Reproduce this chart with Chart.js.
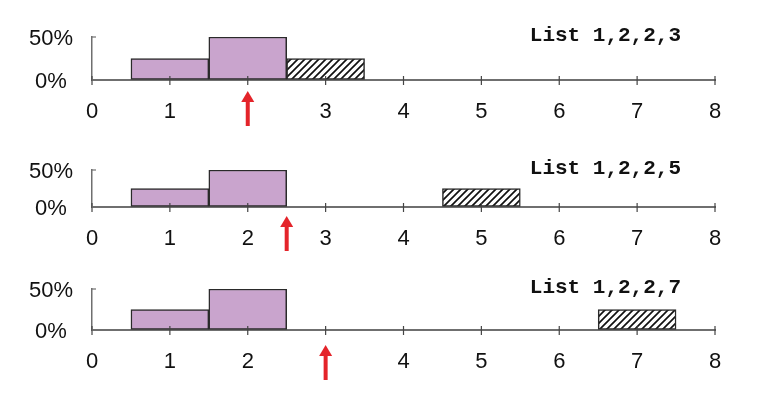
<!DOCTYPE html>
<html>
<head>
<meta charset="utf-8">
<script src="https://cdn.jsdelivr.net/npm/chart.js@4.4.1/dist/chart.umd.min.js"></script>
<style>
  html, body { margin: 0; padding: 0; background: #fff; }
  #wrap { position: relative; width: 780px; height: 396px; overflow: hidden; }
  canvas { position: absolute; left: 0; }
</style>
</head>
<body>
<div id="wrap">
  <canvas id="c0" width="780" height="132" style="top:0px"></canvas>
  <canvas id="c1" width="780" height="132" style="top:132px"></canvas>
  <canvas id="c2" width="780" height="132" style="top:264px"></canvas>
</div>
<script>
// three small histograms, one per list (share of values per bin)
const listNames = ["List 1,2,2,3", "List 1,2,2,5", "List 1,2,2,7"];
const binsA = [1, 2, 3];
const binsB = [1, 2, 5];
const binsC = [1, 2, 7];
const sharesA = [0.25, 0.5, 0.25];
const sharesB = [0.25, 0.5, 0.25];
const sharesC = [0.25, 0.5, 0.25];
const medians = [2, 2.5, 3];
const xTicks = [0, 1, 2, 3, 4, 5, 6, 7, 8];
const yTicks = [0, 0.5];
const yTickLabels = ["0%", "50%"];

const allBins = [binsA, binsB, binsC];
const allShares = [sharesA, sharesB, sharesC];
// vertical padding of each panel canvas
const padTop = [37, 38, 25];
const padBottom = [10, 15, 24];
// gap between axis and arrow tip, per panel
const arrowGap = [11, 9, 15];

const purple = "#c9a4cd";
const axisGrey = "#6f6f6f";

// hatch pattern for the outlier bar
const pc = document.createElement("canvas");
pc.width = 7;
pc.height = 7;
const g = pc.getContext("2d");
g.fillStyle = "#fff";
g.fillRect(0, 0, 7, 7);
g.strokeStyle = "#111";
g.lineWidth = 1.7;
g.beginPath();
g.moveTo(0, 7); g.lineTo(7, 0);
g.moveTo(-1, 1); g.lineTo(1, -1);
g.moveTo(6, 8); g.lineTo(8, 6);
g.stroke();
const hatch = g.createPattern(pc, "repeat");

function decor(idx) {
  return {
    id: "decor" + idx,
    afterDraw(chart) {
      const { ctx, chartArea } = chart;
      const x = chart.scales.x;
      const y = chart.scales.y;
      const base = y.getPixelForValue(0);
      ctx.save();
      // small ticks crossing the x axis
      ctx.strokeStyle = "#444";
      ctx.lineWidth = 1.2;
      xTicks.forEach((v) => {
        const px = x.getPixelForValue(v);
        ctx.beginPath();
        ctx.moveTo(px, base - 4);
        ctx.lineTo(px, base + 5);
        ctx.stroke();
      });
      // stubs pointing right on the y axis
      ctx.strokeStyle = axisGrey;
      yTicks.forEach((v) => {
        const py = y.getPixelForValue(v);
        ctx.beginPath();
        ctx.moveTo(chartArea.left, py);
        ctx.lineTo(chartArea.left + 4, py);
        ctx.stroke();
      });
      // red arrow at the median
      const mx = x.getPixelForValue(medians[idx]);
      const tip = base + arrowGap[idx];
      ctx.fillStyle = "#e4242a";
      ctx.fillRect(mx - 2, tip + 9, 4, 26);
      ctx.beginPath();
      ctx.moveTo(mx, tip);
      ctx.lineTo(mx + 6.5, tip + 11);
      ctx.lineTo(mx - 6.5, tip + 11);
      ctx.closePath();
      ctx.fill();
      // list label
      ctx.fillStyle = "#111";
      ctx.font = 'bold 21px "Liberation Mono", "Courier New", monospace';
      ctx.textAlign = "right";
      ctx.textBaseline = "middle";
      ctx.fillText(listNames[idx], x.getPixelForValue(8) - 34, chartArea.top - 1);
      ctx.restore();
    },
  };
}

allBins.forEach((bins, idx) => {
  const shares = allShares[idx];
  new Chart(document.getElementById("c" + idx), {
    type: "bar",
    data: {
      datasets: [
        {
          data: bins.map((b, i) => ({ x: b, y: shares[i] })),
          backgroundColor: bins.map((b, i) => (i === bins.length - 1 ? hatch : purple)),
          borderColor: "#2a2a2a",
          borderWidth: 1.5,
          borderSkipped: false,
          barPercentage: 1,
          categoryPercentage: 1,
        },
      ],
    },
    options: {
      responsive: false,
      animation: false,
      devicePixelRatio: 1,
      layout: { padding: { left: 0, right: 65, top: padTop[idx], bottom: padBottom[idx] } },
      plugins: { legend: { display: false }, tooltip: { enabled: false } },
      scales: {
        x: {
          type: "linear",
          min: 0,
          max: 8,
          offset: false,
          afterBuildTicks: (s) => { s.ticks = xTicks.map((v) => ({ value: v })); },
          afterFit: (s) => { s.height = 42; },
          grid: { display: true, offset: false, drawOnChartArea: false, drawTicks: false },
          border: { color: axisGrey, width: 2 },
          ticks: {
            padding: 19,
            color: "#111",
            font: { family: '"Liberation Sans", Arial', size: 22 },
            callback: (v) => (v === medians[idx] ? "" : String(v)),
          },
        },
        y: {
          min: 0,
          max: 0.5,
          afterBuildTicks: (s) => { s.ticks = yTicks.map((v) => ({ value: v })); },
          afterFit: (s) => { s.width = 92; },
          // invisible tick marks keep the labels away from the axis
          grid: { drawOnChartArea: false, drawTicks: true, tickLength: 19, tickColor: "rgba(0,0,0,0)" },
          border: { color: axisGrey, width: 1.5 },
          ticks: {
            padding: 0,
            labelOffset: 2,
            crossAlign: "center",
            color: "#111",
            font: { family: '"Liberation Sans", Arial', size: 22 },
            callback: (v) => yTickLabels[yTicks.indexOf(v)] || "",
          },
        },
      },
    },
    plugins: [decor(idx)],
  });
});
</script>
</body>
</html>
